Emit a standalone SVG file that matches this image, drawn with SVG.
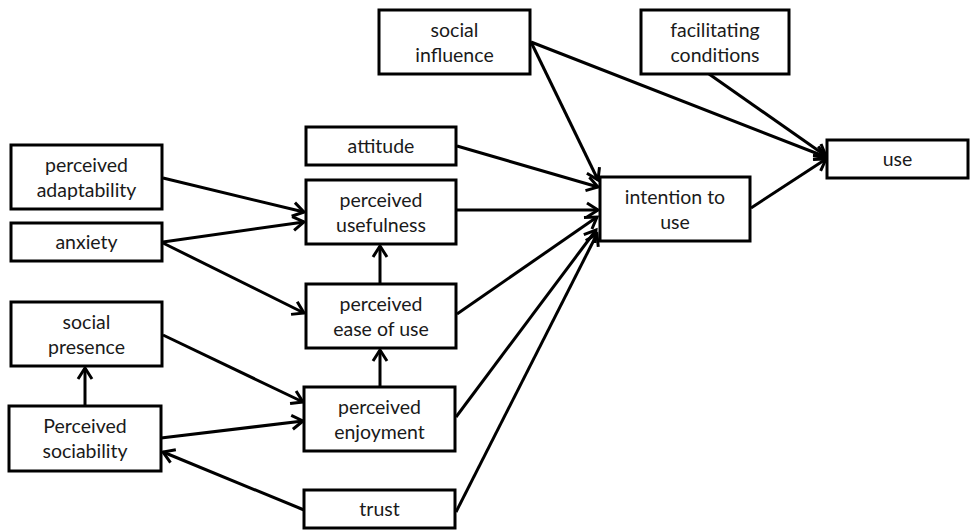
<svg xmlns="http://www.w3.org/2000/svg" width="972" height="530" viewBox="0 0 972 530">
  <style>
    .box { fill: #fff; stroke: #000; stroke-width: 3; }
    .lbl { font-family: Lato, "Open Sans", "Liberation Sans", sans-serif; font-size: 19.5px; fill: #1a1a1a; text-anchor: middle; }
    .edge { stroke: #000; stroke-width: 3; fill: none; marker-end: url(#arrow); }
  </style>
  <defs>
    <marker id="arrow" markerUnits="userSpaceOnUse" markerWidth="16" markerHeight="16" refX="13" refY="8" orient="auto" overflow="visible">
      <path d="M2,1 L13,8 L2,15" fill="none" stroke="#000" stroke-width="3" stroke-linejoin="miter"/>
    </marker>
  </defs>

  <g id="connectors">
    <line class="edge" x1="531" y1="42" x2="826" y2="157"/>
    <line class="edge" x1="531" y1="42" x2="598" y2="180"/>
    <line class="edge" x1="709" y1="74" x2="826" y2="156"/>
    <line class="edge" x1="751" y1="208" x2="826" y2="159"/>
    <line class="edge" x1="457" y1="146" x2="598" y2="187"/>
    <line class="edge" x1="457" y1="210" x2="598" y2="210"/>
    <line class="edge" x1="457" y1="314" x2="597" y2="217"/>
    <line class="edge" x1="456" y1="417" x2="596" y2="230"/>
    <line class="edge" x1="456" y1="512" x2="597" y2="234"/>
    <line class="edge" x1="163" y1="178" x2="304" y2="212"/>
    <line class="edge" x1="163" y1="242" x2="304" y2="222"/>
    <line class="edge" x1="163" y1="243" x2="304" y2="313"/>
    <line class="edge" x1="380" y1="284" x2="380" y2="246"/>
    <line class="edge" x1="380" y1="387" x2="380" y2="350"/>
    <line class="edge" x1="163" y1="335" x2="303" y2="402"/>
    <line class="edge" x1="161" y1="438" x2="303" y2="421"/>
    <line class="edge" x1="304" y1="510" x2="163" y2="452"/>
    <line class="edge" x1="85" y1="406" x2="85" y2="368"/>
  </g>

  <g id="social-influence">
    <rect class="box" x="379" y="10" width="151" height="64"/>
    <text class="lbl" x="454.5" y="37">social</text>
    <text class="lbl" x="454.5" y="62">influence</text>
  </g>
  <g id="facilitating-conditions">
    <rect class="box" x="641" y="10" width="148" height="64"/>
    <text class="lbl" x="715" y="37">facilitating</text>
    <text class="lbl" x="715" y="62">conditions</text>
  </g>
  <g id="use">
    <rect class="box" x="827" y="140" width="141" height="38"/>
    <text class="lbl" x="897.5" y="166">use</text>
  </g>
  <g id="intention-to-use">
    <rect class="box" x="600" y="177" width="150" height="64"/>
    <text class="lbl" x="675" y="204">intention to</text>
    <text class="lbl" x="675" y="229">use</text>
  </g>
  <g id="attitude">
    <rect class="box" x="306" y="127" width="150" height="38"/>
    <text class="lbl" x="381" y="153">attitude</text>
  </g>
  <g id="perceived-usefulness">
    <rect class="box" x="306" y="180" width="150" height="64"/>
    <text class="lbl" x="381" y="207">perceived</text>
    <text class="lbl" x="381" y="232">usefulness</text>
  </g>
  <g id="perceived-ease-of-use">
    <rect class="box" x="306" y="284" width="150" height="64"/>
    <text class="lbl" x="381" y="311">perceived</text>
    <text class="lbl" x="381" y="336">ease of use</text>
  </g>
  <g id="perceived-enjoyment">
    <rect class="box" x="304" y="387" width="151" height="64"/>
    <text class="lbl" x="379.5" y="414">perceived</text>
    <text class="lbl" x="379.5" y="439">enjoyment</text>
  </g>
  <g id="trust">
    <rect class="box" x="304" y="490" width="151" height="38"/>
    <text class="lbl" x="379.5" y="516">trust</text>
  </g>
  <g id="perceived-adaptability">
    <rect class="box" x="11" y="145" width="151" height="64"/>
    <text class="lbl" x="86.5" y="172">perceived</text>
    <text class="lbl" x="86.5" y="197">adaptability</text>
  </g>
  <g id="anxiety">
    <rect class="box" x="11" y="223" width="151" height="38"/>
    <text class="lbl" x="86.5" y="249">anxiety</text>
  </g>
  <g id="social-presence">
    <rect class="box" x="11" y="302" width="151" height="64"/>
    <text class="lbl" x="86.5" y="329">social</text>
    <text class="lbl" x="86.5" y="354">presence</text>
  </g>
  <g id="perceived-sociability">
    <rect class="box" x="9" y="406" width="152" height="65"/>
    <text class="lbl" x="85" y="433">Perceived</text>
    <text class="lbl" x="85" y="458">sociability</text>
  </g>
</svg>
